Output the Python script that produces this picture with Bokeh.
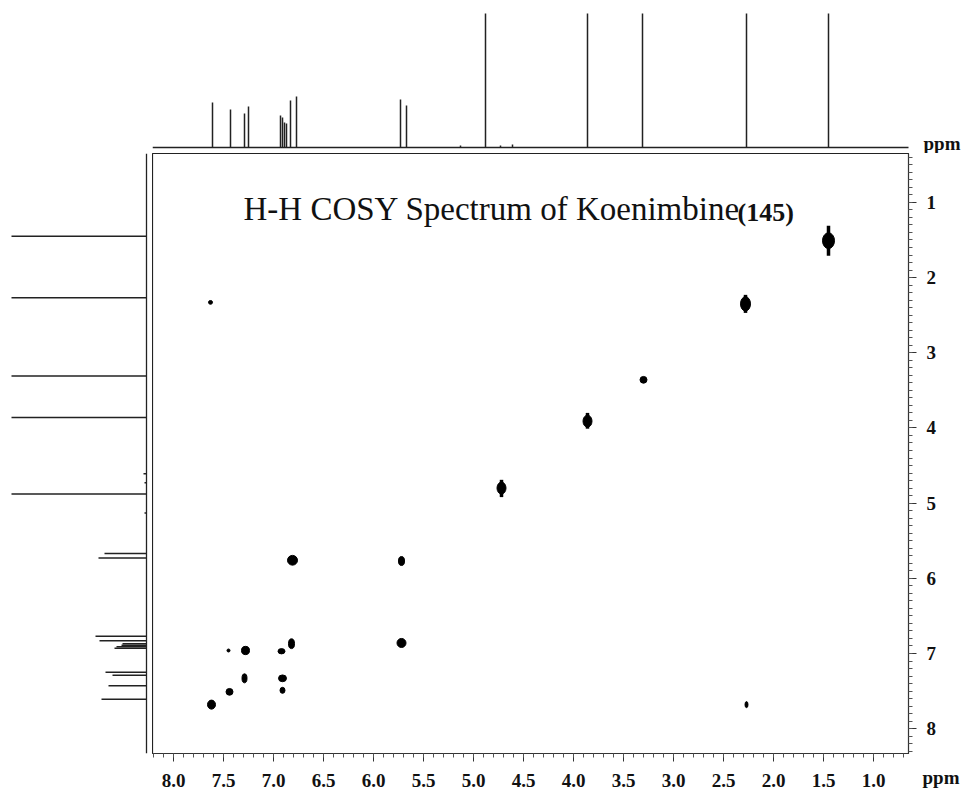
from bokeh.plotting import figure
from bokeh.models import Range1d, Label, SingleIntervalTicker, PrintfTickFormatter, ColumnDataSource, Spacer
from bokeh.layouts import column, row
from bokeh.core.properties import value
from bokeh.embed import file_html
from bokeh.resources import INLINE

# ---- 1D 1H projection: peak list (ppm, relative intensity; singlets exceed trace height) ----
peak_ppm = [7.61, 7.43, 7.29, 7.25, 6.93, 6.91, 6.89, 6.87, 6.83, 6.77,
            5.73, 5.67, 5.13, 4.88, 4.73, 4.61, 3.86, 3.31, 2.27, 1.45]
peak_int = [45, 38, 34, 41, 32, 30, 25, 24, 47, 51,
            48, 42, 2, 300, 2, 3, 300, 300, 300, 300]
# spectral windows (ppm): F2 (horizontal) and F1 (vertical)
f2_start, f2_end = 8.21, 0.65
f1_start, f1_end = 8.33, 0.35

# ---- 2D COSY cross / diagonal peaks ----
cross_f2 = [1.45, 2.28, 3.30, 3.86, 4.72, 6.81, 5.72, 5.72, 6.82, 6.92,
            7.28, 7.45, 7.29, 6.91, 6.91, 7.44, 7.62, 7.63, 2.27]
cross_f1 = [1.51, 2.35, 3.36, 3.91, 4.80, 5.76, 5.77, 6.86, 6.87, 6.97,
            6.96, 6.96, 7.33, 7.33, 7.49, 7.51, 7.68, 2.33, 7.68]
# peak linewidths (ppm) along F2 and F1
lw_f2 = [0.12, 0.10, 0.07, 0.09, 0.09, 0.10, 0.06, 0.09, 0.06, 0.07,
         0.08, 0.03, 0.05, 0.08, 0.05, 0.07, 0.08, 0.04, 0.03]
lw_f1 = [0.21, 0.19, 0.09, 0.16, 0.16, 0.13, 0.12, 0.12, 0.13, 0.07,
         0.11, 0.04, 0.12, 0.09, 0.08, 0.09, 0.12, 0.05, 0.08]

# t1-noise ridges of the strong singlets
ridge_f2 = [1.45, 2.28, 3.86, 4.72]
ridge_f1_lo = [1.31, 2.23, 3.80, 4.69]
ridge_f1_hi = [1.71, 2.47, 4.01, 4.92]

title_text = "H-H COSY Spectrum of Koenimbine"
compound_no = "(145)"
unit_text = "ppm"

FONT = "Liberation Serif"
INK = "#111111"
TRACE = "#222222"

x_rng = Range1d(f2_start, f2_end)
y_rng = Range1d(f1_start, f1_end)

# ---- main 2D panel ----
main = figure(frame_width=756, frame_height=600, x_range=x_rng, y_range=y_rng,
              x_axis_location="below", y_axis_location="right",
              min_border_left=0, min_border_top=0, min_border_right=60, min_border_bottom=43,
              output_backend="svg", toolbar_location=None,
              background_fill_color="white", border_fill_color="white")
main.grid.visible = False
main.outline_line_color = "#222222"
main.outline_line_width = 1.2

xa = main.xaxis[0]
xa.ticker = SingleIntervalTicker(interval=0.5, num_minor_ticks=5)
xa.formatter = PrintfTickFormatter(format="%.1f")
ya = main.yaxis[0]
ya.ticker = SingleIntervalTicker(interval=1, num_minor_ticks=10)
ya.formatter = PrintfTickFormatter(format="%d")
for ax in (xa, ya):
    ax.axis_line_color = "#333333"
    ax.major_tick_line_color = "#333333"
    ax.minor_tick_line_color = "#555555"
    ax.major_tick_out = 8
    ax.major_tick_in = 0
    ax.minor_tick_out = 4
    ax.minor_tick_in = 0
    ax.major_label_text_font = FONT
    ax.major_label_text_font_style = "bold"
    ax.major_label_text_font_size = "19px"
    ax.major_label_text_color = INK
xa.major_label_standoff = 12
ya.major_label_standoff = 10

src = ColumnDataSource(dict(f2=cross_f2, f1=cross_f1, w=lw_f2, h=lw_f1))
main.ellipse(x="f2", y="f1", width="w", height="h", source=src,
             fill_color="black", line_color="black", line_width=1)
rsrc = ColumnDataSource(dict(x=ridge_f2, lo=ridge_f1_lo, hi=ridge_f1_hi))
main.segment(x0="x", y0="lo", x1="x", y1="hi", source=rsrc, line_color="black", line_width=3.5)

main.add_layout(Label(x=7.30, y=1.09, text=title_text, text_font=FONT,
                      text_font_size="33px", text_color=INK, text_baseline="alphabetic"))
main.add_layout(Label(x=2.36, y=1.13, text=compound_no, text_font=FONT, text_font_style="bold",
                      text_font_size="26px", text_color=INK, text_baseline="alphabetic"))

# ---- top 1D projection (frame reaches the right edge to hold the unit label) ----
top = figure(frame_width=816, frame_height=140, x_range=Range1d(f2_start, 0.05), y_range=Range1d(-6, 134),
             x_axis_location=None, y_axis_location=None,
             min_border_left=0, min_border_top=13, min_border_right=0, min_border_bottom=0,
             output_backend="svg", toolbar_location=None)
top.grid.visible = False
top.outline_line_color = None
top.segment(x0=[f2_start], y0=[0], x1=[f2_end], y1=[0], line_color=TRACE, line_width=1.3)
psrc = ColumnDataSource(dict(ppm=peak_ppm, inten=peak_int, zero=[0] * len(peak_ppm)))
top.segment(x0="ppm", y0="zero", x1="ppm", y1="inten", source=psrc, line_color=TRACE, line_width=1.5)
top.text(x=[0.50], y=[4], text=[unit_text], text_font=value(FONT), text_font_style="bold",
         text_font_size="19px", text_color=INK, text_baseline="middle", text_align="left")

# ---- left 1D projection ----
left = figure(frame_width=141, frame_height=600, x_range=Range1d(135, -6), y_range=y_rng,
              x_axis_location=None, y_axis_location=None,
              min_border_left=11, min_border_top=0, min_border_right=0, min_border_bottom=43,
              output_backend="svg", toolbar_location=None)
left.grid.visible = False
left.outline_line_color = None
left.segment(x0=[0], y0=[f1_start], x1=[0], y1=[f1_end], line_color=TRACE, line_width=1.3)
left.segment(x0="zero", y0="ppm", x1="inten", y1="ppm", source=psrc, line_color=TRACE, line_width=1.5)

# ---- transparent overlay over the bottom-right corner for the F2 unit label ----
ovl = figure(frame_width=60, frame_height=643, x_range=Range1d(0, 60), y_range=Range1d(643, 0),
             x_axis_location=None, y_axis_location=None,
             min_border_left=0, min_border_right=0, min_border_top=0, min_border_bottom=0,
             output_backend="svg", toolbar_location=None, frame_align=False,
             background_fill_color=None, border_fill_color=None, margin=(0, 0, 0, -60))
ovl.grid.visible = False
ovl.outline_line_color = None
ovl.text(x=[14], y=[624], text=[unit_text], text_font=value(FONT), text_font_style="bold",
         text_font_size="19px", text_color=INK, text_baseline="middle", text_align="left")

layout = column(row(Spacer(width=152, height=153), top), row(left, main, ovl))

open("out.html", "w").write(file_html(layout, INLINE))
